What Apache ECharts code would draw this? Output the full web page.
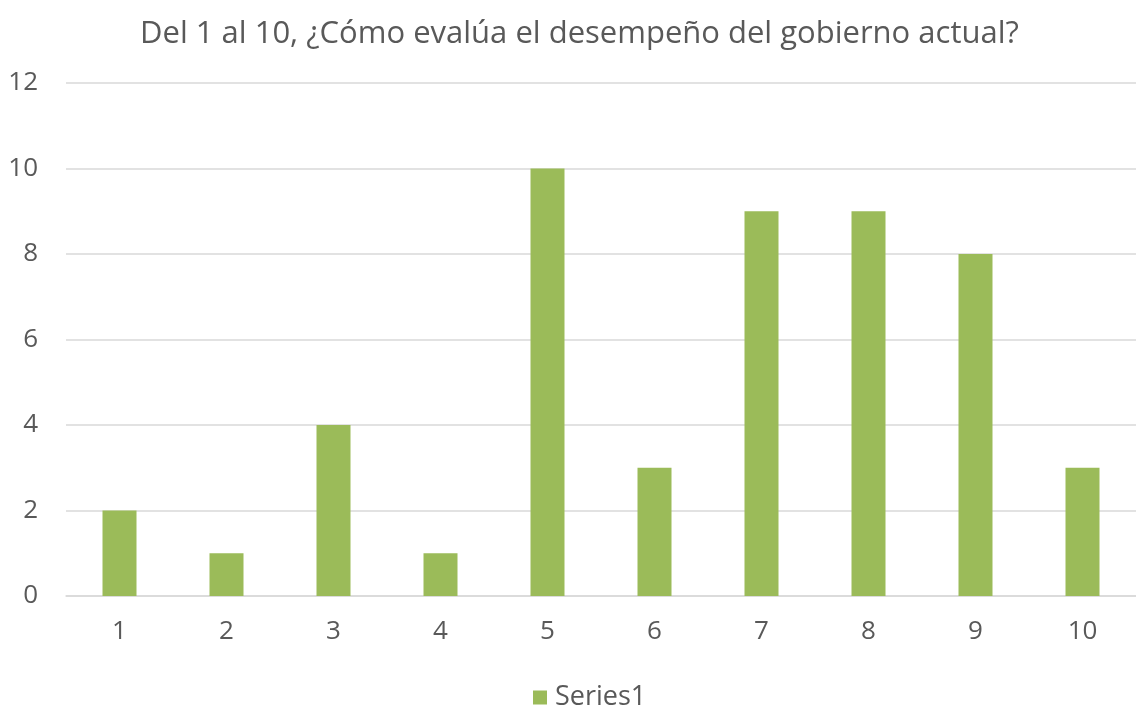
<!DOCTYPE html>
<html>
<head>
<meta charset="utf-8">
<script src="https://cdn.jsdelivr.net/npm/echarts@6/dist/echarts.min.js"></script>
<style>
  html, body { margin: 0; padding: 0; background: #fff; }
  #chart { width: 1136px; height: 711px; }
</style>
</head>
<body>
<div id="chart"></div>
<script>
const titleText = "Del 1 al 10, ¿Cómo evalúa el desempeño del gobierno actual?";
const categories = ["1", "2", "3", "4", "5", "6", "7", "8", "9", "10"];
const series1 = [2, 1, 4, 1, 10, 3, 9, 9, 8, 3];

const chart = echarts.init(document.getElementById("chart"));
const fontFamily = "'Open Sans', 'Noto Sans', sans-serif";

// the original picture is cropped on the right, so title/legend sit right of our centre
chart.setOption({
  animation: false,
  title: {
    text: titleText,
    left: 135,
    top: 14,
    textStyle: { fontFamily, fontSize: 31, fontWeight: "normal", color: "#595959" },
  },
  grid: {
    left: 66,
    top: 83,
    width: 1078,
    bottom: 115,
    containLabel: false,
  },
  legend: {
    top: 679,
    left: 528,
    icon: "rect",
    itemWidth: 14,
    itemHeight: 14,
    itemGap: 10,
    textStyle: { fontFamily, fontSize: 27, color: "#595959", padding: [0, 0, 0, 3] },
    data: ["Series1"],
  },
  xAxis: {
    type: "category",
    data: categories,
    axisLine: { lineStyle: { color: "#d9d9d9", width: 1.5 } },
    axisTick: { show: false },
    axisLabel: { fontFamily, fontSize: 26, color: "#595959", margin: 23 },
  },
  yAxis: {
    type: "value",
    min: 0,
    max: 12,
    interval: 2,
    axisLine: { show: false },
    axisTick: { show: false },
    axisLabel: { fontFamily, fontSize: 26, color: "#595959", margin: 28, align: "right" },
    splitLine: { lineStyle: { color: "#d9d9d9", width: 1.5 } },
  },
  series: [
    {
      name: "Series1",
      type: "bar",
      data: series1,
      barWidth: 34,
      itemStyle: { color: "#9bbb59" },
    },
  ],
});
</script>
</body>
</html>
